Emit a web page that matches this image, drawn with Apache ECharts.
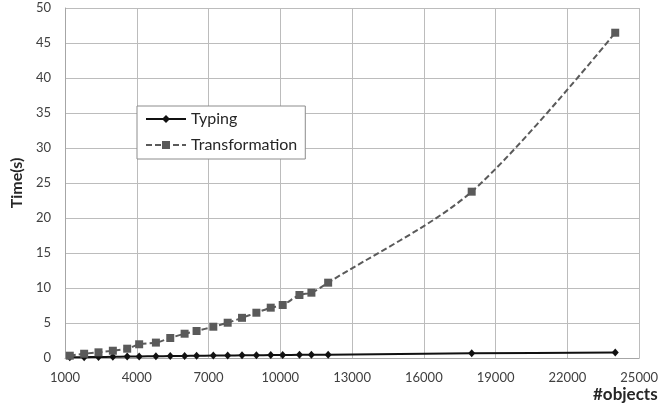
<!DOCTYPE html>
<html>
<head>
<meta charset="utf-8">
<script src="https://cdn.jsdelivr.net/npm/echarts@6/dist/echarts.min.js"></script>
<style>html,body{margin:0;padding:0;background:#fff;}#c{width:661px;height:406px;}</style>
</head>
<body>
<div id="c"></div>
<script>
const objects = [1200, 1800, 2400, 3000, 3600, 4100, 4800, 5400, 6000, 6500, 7200, 7800, 8400, 9000, 9600, 10100, 10800, 11300, 12000, 18000, 24000];
const typing = [0.10, 0.12, 0.14, 0.17, 0.20, 0.22, 0.25, 0.28, 0.30, 0.32, 0.34, 0.36, 0.38, 0.40, 0.42, 0.43, 0.45, 0.46, 0.48, 0.67, 0.77];
const transformation = [0.33, 0.61, 0.81, 1.04, 1.33, 1.96, 2.2, 2.86, 3.47, 3.86, 4.47, 5.04, 5.74, 6.47, 7.19, 7.57, 9.0, 9.33, 10.76, 23.76, 46.47];

const font = 'Lato, "Open Sans", sans-serif';
const chart = echarts.init(document.getElementById('c'), null, {renderer: 'canvas'});
chart.setOption({
  animation: false,
  backgroundColor: '#ffffff',
  textStyle: {fontFamily: font},
  title: {
    text: '#objects', left: 588, top: 381,
    textStyle: {fontFamily: font, fontSize: 17, fontWeight: 'bold', color: '#262626'}
  },
  grid: {left: 65, right: 16, top: 8, bottom: 48, containLabel: false},
  legend: {
    orient: 'vertical', left: 137, top: 106,
    padding: [5, 8, 6, 8], itemGap: 10,
    itemWidth: 40, itemHeight: 10,
    backgroundColor: '#ffffff', borderColor: '#8c8c8c', borderWidth: 1,
    textStyle: {fontFamily: font, fontSize: 16, color: '#262626', lineHeight: 16},
    data: ['Typing', 'Transformation']
  },
  xAxis: {
    type: 'value', min: 1000, max: 25000, interval: 3000,
    axisLine: {lineStyle: {color: '#a6a6a6', width: 1}},
    axisTick: {show: false},
    axisLabel: {fontFamily: font, fontSize: 13, color: '#404040', margin: 13, formatter: v => String(v)},
    splitLine: {show: true, lineStyle: {color: '#bcbcbc', width: 1}}
  },
  yAxis: {
    type: 'value', min: 0, max: 50, interval: 5,
    name: 'Time(s)', nameLocation: 'middle', nameGap: 34, nameRotate: 90,
    nameTextStyle: {fontFamily: font, fontSize: 16, fontWeight: 'bold', color: '#262626'},
    axisLine: {show: true, lineStyle: {color: '#a6a6a6', width: 1}},
    axisTick: {show: false},
    axisLabel: {fontFamily: font, fontSize: 13, color: '#404040', margin: 14, formatter: v => String(v)},
    splitLine: {show: true, lineStyle: {color: '#bcbcbc', width: 1}}
  },
  series: [
    {
      name: 'Typing', type: 'line', smooth: 0.3,
      data: objects.map((x, i) => [x, typing[i]]),
      symbol: 'diamond', symbolSize: [7, 8],
      itemStyle: {color: '#111111'},
      lineStyle: {color: '#111111', width: 2}
    },
    {
      name: 'Transformation', type: 'line', smooth: 0.3,
      data: objects.map((x, i) => [x, transformation[i]]),
      symbol: 'rect', symbolSize: 8,
      itemStyle: {color: '#5a5a5a'},
      lineStyle: {color: '#5a5a5a', width: 2, type: [6, 3]}
    }
  ]
});
</script>
</body>
</html>
